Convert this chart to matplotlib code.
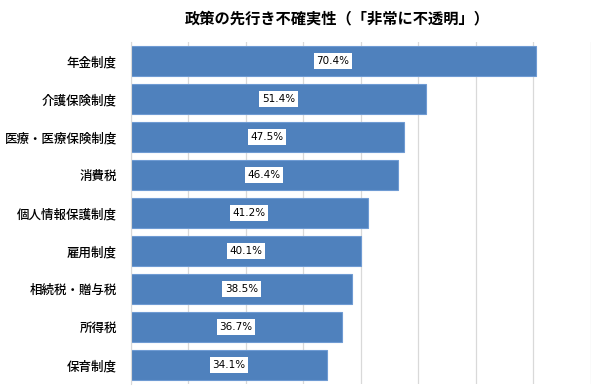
import matplotlib
matplotlib.use("Agg")
import matplotlib.pyplot as plt

plt.rcParams['font.family'] = ['Noto Sans CJK JP', 'DejaVu Sans']

categories = ["年金制度", "介護保険制度", "医療・医療保険制度", "消費税", "個人情報保護制度",
              "雇用制度", "相続税・贈与税", "所得税", "保育制度"]
values = [70.4, 51.4, 47.5, 46.4, 41.2, 40.1, 38.5, 36.7, 34.1]
title = "政策の先行き不確実性（「非常に不透明」）"

fig = plt.figure(figsize=(6.0, 3.92), dpi=100)
ax = fig.add_axes([130.7/600, 1-384/392, 460/600, (384-42)/392])

y = list(range(len(categories)))
ax.barh(y, values, height=0.79, color="#4f81bd", edgecolor="#6f9bd3", linewidth=0.8, zorder=2)
for yi, v in zip(y, values):
    ax.text(v/2, yi, f"{v:.1f}%", ha="center", va="center", fontsize=7.5, color="#000000",
            family=['DejaVu Sans'],
            bbox=dict(boxstyle="square,pad=0.25", facecolor="white", edgecolor="none"), zorder=3)

ax.set_xlim(0, 80)
ax.set_ylim(len(categories)-0.5, -0.5)
ax.set_xticks(range(0, 81, 10))
ax.set_xticklabels([])
ax.xaxis.grid(True, color="#d9d9d9", linewidth=0.9, zorder=0)
ax.tick_params(axis='x', length=0)
ax.set_yticks(y)
ax.set_yticklabels(categories, fontsize=9, fontweight="medium")
ax.tick_params(axis='y', length=0, pad=10)
for s in ["top", "right", "bottom"]:
    ax.spines[s].set_visible(False)
ax.spines["left"].set_color("#d9d9d9")

fig.text(337/600, 1-18/392, title, ha="center", va="center", fontsize=11, fontweight="bold")
fig.savefig("out.png", dpi=100)
